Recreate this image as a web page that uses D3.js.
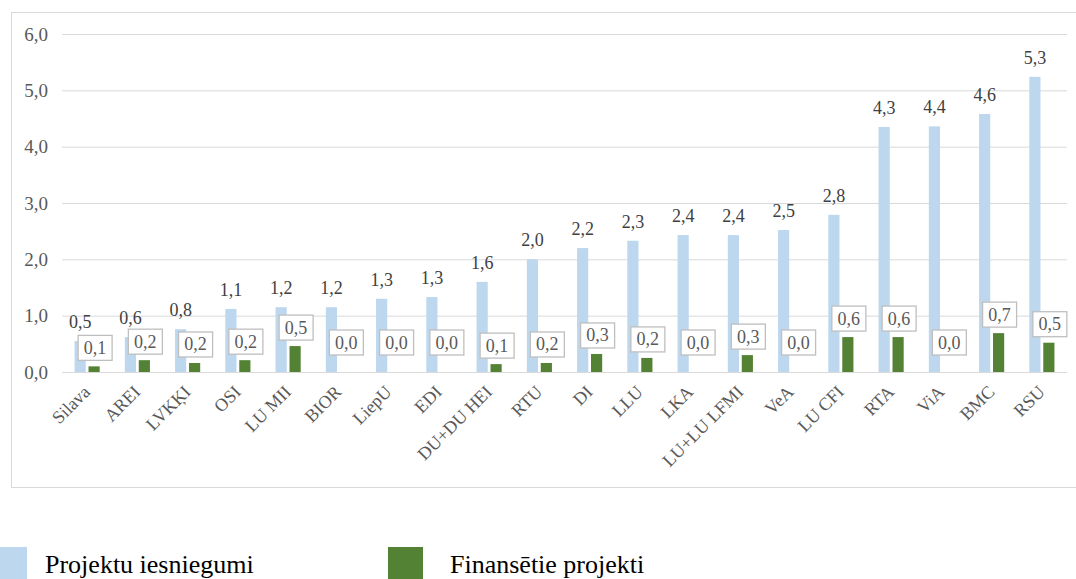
<!DOCTYPE html>
<html>
<head>
<meta charset="utf-8">
<script src="https://cdn.jsdelivr.net/npm/d3@7"></script>
<style>
  body { margin: 0; background: #fff; }
  svg, svg text { font-family: "Liberation Serif", "Times New Roman", Tinos, "DejaVu Serif", serif; }
</style>
</head>
<body>
<div id="chart"></div>
<script>
// institutions, sorted by number of submitted projects
const categories = ["Silava", "AREI", "LVKĶI", "OSI", "LU MII", "BIOR", "LiepU", "EDI", "DU+DU HEI",
    "RTU", "DI", "LLU", "LKA", "LU+LU LFMI", "VeA", "LU CFI", "RTA", "ViA", "BMC", "RSU"];

// bar heights
const submitted = [0.55, 0.62, 0.76, 1.12, 1.15, 1.15, 1.30, 1.33, 1.60, 2.00, 2.20, 2.33, 2.43, 2.43, 2.52, 2.79, 4.35, 4.36, 4.58, 5.24];
const funded = [0.10, 0.21, 0.16, 0.21, 0.46, 0, 0, 0, 0.14, 0.16, 0.32, 0.25, 0, 0.30, 0, 0.62, 0.62, 0, 0.69, 0.52];

// printed data labels
const submittedLabels = ["0,5", "0,6", "0,8", "1,1", "1,2", "1,2", "1,3", "1,3", "1,6", "2,0", "2,2", "2,3", "2,4", "2,4", "2,5", "2,8", "4,3", "4,4", "4,6", "5,3"];
const fundedLabels = ["0,1", "0,2", "0,2", "0,2", "0,5", "0,0", "0,0", "0,0", "0,1", "0,2", "0,3", "0,2", "0,0", "0,3", "0,0", "0,6", "0,6", "0,0", "0,7", "0,5"];

const yTicks = [0, 1, 2, 3, 4, 5, 6];
const seriesNames = ["Projektu iesniegumi", "Finansētie projekti"];
const colors = ["#bdd7ee", "#548235"];
const FONT = '"Liberation Serif", "Times New Roman", Tinos, "DejaVu Serif", serif';

const W = 1076, H = 579;
const svg = d3.select("#chart").append("svg")
    .attr("width", W)
    .attr("height", H);

// chart frame (right edge runs off the picture)
svg.append("rect")
    .attr("x", 11.5).attr("y", 12.5)
    .attr("width", 1100).attr("height", 475)
    .attr("fill", "none")
    .attr("stroke", "#d9d9d9");

const x = d3.scaleBand()
    .domain(categories)
    .range([62, 1067])
    .paddingInner(0.5)
    .paddingOuter(0.25);

const x1 = d3.scaleBand()
    .domain([0, 1])
    .range([0, x.bandwidth()])
    .paddingInner(0.2);

const y = d3.scaleLinear().domain([0, 6]).range([372, 34]);

const fmt = d => d3.format(".1f")(d).replace(".", ",");

// gridlines + tick labels
const yAxis = svg.append("g")
    .attr("transform", "translate(62,0)")
    .call(d3.axisLeft(y).tickValues(yTicks).tickSize(-1005).tickFormat(fmt));
yAxis.attr("font-family", FONT);
yAxis.select(".domain").remove();
yAxis.selectAll("line").attr("stroke", "#d9d9d9");
yAxis.selectAll("text")
    .attr("x", -14)
    .attr("fill", "#595959")
    .style("font-size", "19px");

const groups = svg.append("g").selectAll("g")
    .data(categories)
    .join("g")
    .attr("transform", d => `translate(${x(d)},0)`);

// light bars
groups.append("rect")
    .attr("x", x1(0))
    .attr("width", x1.bandwidth())
    .attr("y", (d, i) => y(submitted[i]))
    .attr("height", (d, i) => y(0) - y(submitted[i]))
    .attr("fill", colors[0]);

// green bars
groups.append("rect")
    .attr("x", x1(1))
    .attr("width", x1.bandwidth())
    .attr("y", (d, i) => y(funded[i]))
    .attr("height", (d, i) => y(0) - y(funded[i]))
    .attr("fill", colors[1]);

// labels above light bars
groups.append("text")
    .attr("x", x1(0) + x1.bandwidth() / 2)
    .attr("y", (d, i) => y(submitted[i]) - 13)
    .attr("text-anchor", "middle")
    .attr("fill", "#404040")
    .style("font-size", "18px")
    .text((d, i) => submittedLabels[i]);

// boxed labels above green bars
const boxW = 34, boxH = 25;
const box = groups.append("g")
    .attr("transform", (d, i) => {
        const bottom = y(funded[i]) - (funded[i] > 0 ? 6 : 17);
        const cx = x1(1) + x1.bandwidth() / 2 + 1;
        return `translate(${cx - boxW / 2},${bottom - boxH})`;
    });
box.append("rect")
    .attr("width", boxW).attr("height", boxH)
    .attr("fill", "#fff")
    .attr("stroke", "#bfbfbf")
    .attr("stroke-width", 1.3);
box.append("text")
    .attr("x", boxW / 2).attr("y", 18.5)
    .attr("text-anchor", "middle")
    .attr("fill", "#595959")
    .style("font-size", "18px")
    .text((d, i) => fundedLabels[i]);

// rotated category labels
svg.append("g").selectAll("text")
    .data(categories)
    .join("text")
    .attr("transform", d => `translate(${x(d) + x.bandwidth() / 2 + 4},393) rotate(-45)`)
    .attr("text-anchor", "end")
    .attr("fill", "#595959")
    .style("font-size", "18px")
    .text(d => d);

// legend
const legendX = [-8, 388];
const legend = svg.append("g").selectAll("g")
    .data(seriesNames)
    .join("g")
    .attr("transform", (d, i) => `translate(${legendX[i]},547)`);
legend.append("rect")
    .attr("width", 35).attr("height", 34)
    .attr("fill", (d, i) => colors[i]);
legend.append("text")
    .attr("x", (d, i) => i === 0 ? 53 : 62)
    .attr("y", 26)
    .attr("fill", "#000")
    .style("font-size", "26px")
    .text(d => d);
</script>
</body>
</html>
